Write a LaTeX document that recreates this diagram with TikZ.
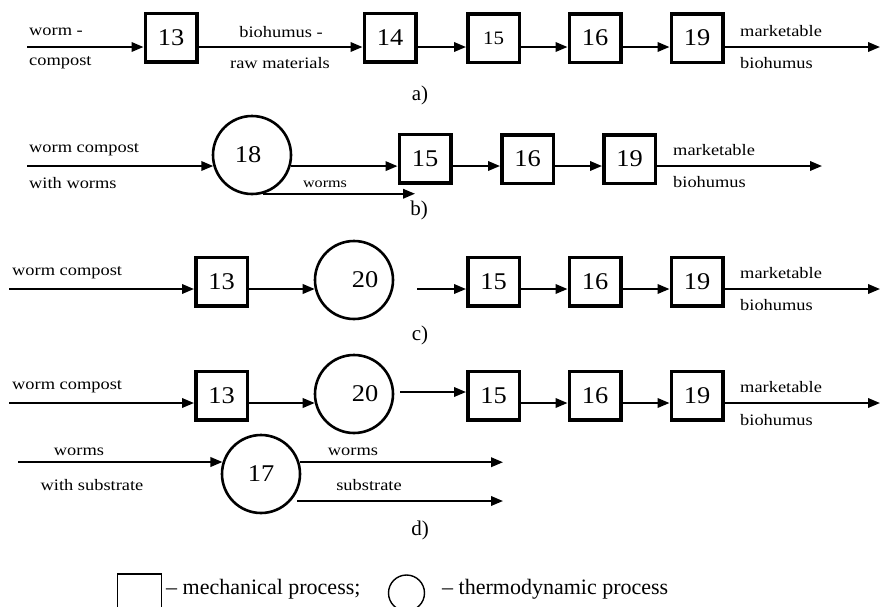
\documentclass[tikz,border=0pt]{standalone}
\usepackage{fontspec}
\setmainfont{Liberation Serif}
\newfontfamily\lblfont[FakeStretch=1.15]{Liberation Serif}
\newfontfamily\numfont[FakeStretch=1.1]{Liberation Serif}
\usetikzlibrary{arrows.meta}
\tikzset{
  box/.style={draw, line width=3.5pt, minimum width=51.5pt, minimum height=48.5pt, inner sep=0pt,
    font=\numfont\fontsize{24}{24}\selectfont},
  proc/.style={draw, circle, line width=2.6pt, minimum size=78pt, inner sep=0pt,
    font=\numfont\fontsize{24}{24}\selectfont},
  arr/.style={line width=2pt, -{Triangle[length=12pt,width=9.5pt]}},
  lbl/.style={font=\lblfont\fontsize{16}{16}\selectfont, inner sep=0pt},
  smalllbl/.style={font=\lblfont\fontsize{14}{14}\selectfont, inner sep=0pt},
  tag/.style={font=\fontsize{21}{21}\selectfont, inner sep=0pt},
  leg/.style={font=\fontsize{22}{22}\selectfont, inner sep=0pt, anchor=base west},
}
\begin{document}
\begin{tikzpicture}[x=1pt,y=-1pt]
\useasboundingbox (0,0) rectangle (881,606);
\clip (0,0) rectangle (881,606);

% ---------- a) ----------
\node[box] (a13) at (171,37.5) {13};
\node[box] (a14) at (390,37.5) {14};
\node[box, font=\numfont\fontsize{19}{19}\selectfont] (a15) at (493.5,38) {15};
\node[box] (a16) at (595,38) {16};
\node[box] (a19) at (697,38) {19};
\coordinate (ain) at (27,47);
\coordinate (aout) at (880,47);
\draw[arr] (ain) -- (ain -| a13.west);
\draw[arr] (ain -| a13.east) -- (ain -| a14.west);
\draw[arr] (ain -| a14.east) -- (ain -| a15.west);
\draw[arr] (ain -| a15.east) -- (ain -| a16.west);
\draw[arr] (ain -| a16.east) -- (ain -| a19.west);
\draw[arr] (ain -| a19.east) -- (aout);
\node[lbl, anchor=west] (la1) at (29,32) {worm -};
\node[lbl, anchor=west] (la2) at (29,63) {compost};
\node[lbl] (la3) at (281,32) {biohumus -};
\node[lbl] (la4) at (280,63) {raw materials};
\node[lbl, anchor=west] (la5) at (740,31) {marketable};
\node[lbl, anchor=west] (la6) at (740,63) {biohumus};
\node[tag] (tga) at (420,95) {a)};

% ---------- b) ----------
\node[proc] (b18) at (252,155) {\kern-8pt18};
\node[box] (b15) at (425,158.5) {15};
\node[box] (b16) at (527.5,159) {16};
\node[box] (b19) at (629.5,159) {19};
\coordinate (bin) at (27,166);
\coordinate (bout) at (822,166);
\coordinate (bworms) at (415,194);
\draw[arr] (bin) -- (bin -| b18.196);
\draw[arr] (b18.-16) -- (b18.-16 -| b15.west);
\draw[arr] (bout -| b15.east) -- (bout -| b16.west);
\draw[arr] (bout -| b16.east) -- (bout -| b19.west);
\draw[arr] (bout -| b19.east) -- (bout);
\draw[arr] (b18.-74) -- (b18.-74 -| bworms);
\node[lbl, anchor=west] (lb1) at (29,150) {worm compost};
\node[lbl, anchor=west] (lb2) at (29,183) {with worms};
\node[smalllbl] (lb3) at (325,184) {worms};
\node[lbl, anchor=west] (lb4) at (673,150) {marketable};
\node[lbl, anchor=west] (lb5) at (673,182) {biohumus};
\node[tag] (tgb) at (419,210) {b)};

% ---------- c) ----------
\node[box] (c13) at (221.5,281.5) {13};
\node[proc] (c20) at (354,280) {\kern22pt20};
\node[box] (c15) at (493.5,281.5) {15};
\node[box] (c16) at (595,281.5) {16};
\node[box] (c19) at (697,281.5) {19};
\coordinate (cin) at (9,289);
\coordinate (cmid) at (417,289);
\coordinate (cout) at (880,289);
\draw[arr] (cin) -- (cin -| c13.west);
\draw[arr] (cin -| c13.east) -- (cin -| c20.193);
\draw[arr] (cmid) -- (cmid -| c15.west);
\draw[arr] (cmid -| c15.east) -- (cmid -| c16.west);
\draw[arr] (cmid -| c16.east) -- (cmid -| c19.west);
\draw[arr] (cmid -| c19.east) -- (cout);
\node[lbl, anchor=west] (lc1) at (12,273) {worm compost};
\node[lbl, anchor=west] (lc2) at (740,273) {marketable};
\node[lbl, anchor=west] (lc3) at (740,305) {biohumus};
\node[tag] (tgc) at (420,335) {c)};

% ---------- d) ----------
\node[box] (d13) at (221.5,395.5) {13};
\node[proc] (d20) at (354,394) {\kern22pt20};
\node[box] (d15) at (493.5,395.5) {15};
\node[box] (d16) at (595,395.5) {16};
\node[box] (d19) at (697,395.5) {19};
\coordinate (din) at (9,403);
\coordinate (dout) at (880,403);
\coordinate (dmid) at (400,392);
\draw[arr] (din) -- (din -| d13.west);
\draw[arr] (din -| d13.east) -- (din -| d20.193);
\draw[arr] (dmid) -- (dmid -| d15.west);
\draw[arr] (din -| d15.east) -- (din -| d16.west);
\draw[arr] (din -| d16.east) -- (din -| d19.west);
\draw[arr] (din -| d19.east) -- (dout);
\node[lbl, anchor=west] (ld1) at (12,387) {worm compost};
\node[lbl, anchor=west] (ld2) at (740,387) {marketable};
\node[lbl, anchor=west] (ld3) at (740,420) {biohumus};

\node[proc] (e17) at (261,474) {17};
\coordinate (ein) at (18,462);
\coordinate (eend) at (503,480);
\coordinate (esub) at (297,501);
\draw[arr] (ein) -- (ein -| e17.163);
\draw[arr] (e17.17) -- (e17.17 -| eend);
\draw[arr] (esub) -- (esub -| eend);
\node[lbl] (le1) at (79,452) {worms};
\node[lbl] (le2) at (92,485) {with substrate};
\node[lbl] (le3) at (353,452) {worms};
\node[lbl] (le4) at (369,485) {substrate};
\node[tag] (tgd) at (420,530) {d)};

% ---------- legend ----------
\node[draw, line width=1.4pt, minimum width=44pt, minimum height=44pt, inner sep=0pt] (legbox) at (139.5,596) {};
\node[leg] (legt1) at (166,594) {– mechanical process;};
\node[draw, circle, line width=1.4pt, minimum size=36pt, inner sep=0pt] (legcirc) at (406.5,593) {};
\node[leg] (legt2) at (442,594) {– thermodynamic process};
\end{tikzpicture}
\end{document}
